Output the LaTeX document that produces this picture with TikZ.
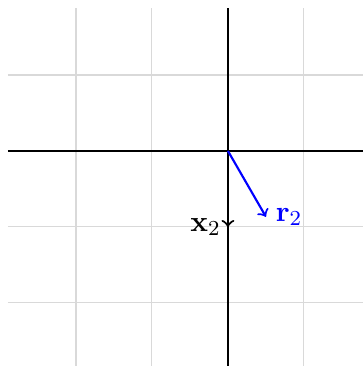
\documentclass[tikz,border=0pt]{standalone}
\usepackage{amsmath}
\tikzset{
  gridline/.style={draw=black!15, line width=0.4pt},
  axisline/.style={draw=black, thick},
  vecarrow/.style={->, thick},
  veclabel/.style={font=\fontsize{10.95}{13}\selectfont, inner sep=1.5pt}
}
\begin{document}
\begin{tikzpicture}[x=1cm,y=1cm]
  \useasboundingbox (-3.0,-2.83) rectangle (1.776,1.987);
  % grid
  \foreach \gx in {-2,-1,0,1} {
    \draw[gridline] (\gx,-2.9) -- (\gx,1.882);
  }
  \foreach \gy in {-2,-1,0,1} {
    \draw[gridline] (-2.895,\gy) -- (1.9,\gy);
  }
  % axes
  \coordinate (xl) at (-2.895,0);
  \coordinate (xr) at (1.9,0);
  \coordinate (yb) at (0,-2.9);
  \coordinate (yt) at (0,1.882);
  \draw[axisline] (xl) -- (xr);
  \draw[axisline] (yb) -- (yt);
  % vectors
  \coordinate (O) at (0,0);
  \coordinate (X2) at (0,-1);
  \coordinate (R2) at (0.5,-0.866);
  \draw[vecarrow, black] (O) -- (X2);
  \draw[vecarrow, blue] (O) -- (R2);
  \node[veclabel, anchor=east, xshift=-1pt] (lx) at (X2) {$\mathbf{x}_2$};
  \node[veclabel, anchor=west, xshift=2pt, text=blue] (lr) at (R2) {$\mathbf{r}_2$};
\end{tikzpicture}
\end{document}
